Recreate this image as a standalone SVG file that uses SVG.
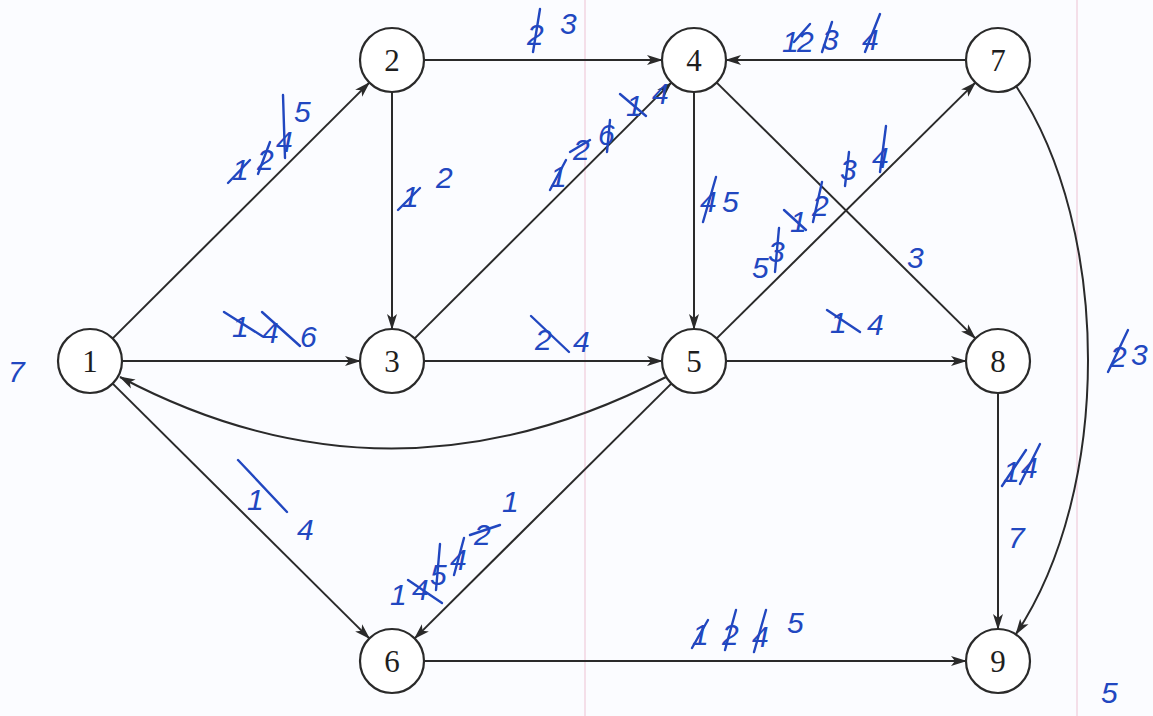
<svg xmlns="http://www.w3.org/2000/svg" width="1153" height="716" viewBox="0 0 1153 716">
<defs>
<style>
.node circle{fill:#fff;stroke:#2a2a2a;stroke-width:2.2}
.node text{font-family:"Liberation Serif",serif;font-size:31px;fill:#1e1e1e;text-anchor:middle}
.edge{fill:none;stroke:#2a2a2a;stroke-width:2;marker-end:url(#arr)}
.hw{font-family:"Liberation Sans",sans-serif;font-style:italic;font-size:30px;fill:#2147c0}
.st{stroke:#2147c0;stroke-width:2.4;stroke-linecap:round}
.margin{stroke:#f2d6e2;stroke-width:1.5}
</style>
<marker id="arr" viewBox="0 0 16 11" refX="15" refY="5.5" markerWidth="16" markerHeight="11" markerUnits="userSpaceOnUse" orient="auto">
<path d="M0,0.5 L16,5.5 L0,10.5 L4,5.5 Z" fill="#2a2a2a"/>
</marker>
</defs>
<rect width="1153" height="716" fill="#fbfcff"/>
<line class="margin" x1="585" y1="0" x2="585" y2="716"/>
<line class="margin" x1="1077" y1="0" x2="1077" y2="716"/>

<g id="connectors">
<line class="edge" x1="112.7" y1="338.4" x2="369.3" y2="82.6"/>
<line class="edge" x1="122" y1="361" x2="360" y2="361"/>
<line class="edge" x1="112.7" y1="383.6" x2="369.3" y2="638.4"/>
<line class="edge" x1="424" y1="60" x2="662" y2="60"/>
<line class="edge" x1="392" y1="92" x2="392" y2="329"/>
<line class="edge" x1="414.7" y1="338.4" x2="671.3" y2="82.6"/>
<line class="edge" x1="424" y1="361" x2="662" y2="361"/>
<line class="edge" x1="694" y1="92" x2="694" y2="329"/>
<line class="edge" x1="716.7" y1="82.6" x2="975.3" y2="338.4"/>
<line class="edge" x1="716.7" y1="338.4" x2="975.3" y2="82.6"/>
<line class="edge" x1="726" y1="361" x2="966" y2="361"/>
<line class="edge" x1="671.3" y1="383.6" x2="414.7" y2="638.4"/>
<line class="edge" x1="966" y1="60" x2="726" y2="60"/>
<line class="edge" x1="424" y1="661" x2="966" y2="661"/>
<line class="edge" x1="998" y1="393" x2="998" y2="629"/>
<path class="edge" d="M666,377 Q390,520 120,377"/>
<path class="edge" d="M1016,86 C1112,230 1112,490 1016,634"/>
</g>

<g id="n1" class="node"><circle cx="90" cy="361" r="32"/><text x="90" y="372">1</text></g>
<g id="n2" class="node"><circle cx="392" cy="60" r="32"/><text x="392" y="71">2</text></g>
<g id="n3" class="node"><circle cx="392" cy="361" r="32"/><text x="392" y="372">3</text></g>
<g id="n4" class="node"><circle cx="694" cy="60" r="32"/><text x="694" y="71">4</text></g>
<g id="n5" class="node"><circle cx="694" cy="361" r="32"/><text x="694" y="372">5</text></g>
<g id="n6" class="node"><circle cx="392" cy="661" r="32"/><text x="392" y="672">6</text></g>
<g id="n7" class="node"><circle cx="998" cy="60" r="32"/><text x="998" y="71">7</text></g>
<g id="n8" class="node"><circle cx="998" cy="361" r="32"/><text x="998" y="372">8</text></g>
<g id="n9" class="node"><circle cx="998" cy="661" r="32"/><text x="998" y="672">9</text></g>

<g id="labels">
<!-- 1->2 -->
<text class="hw" x="232 257 276 294" y="180 170 152 122">1245</text>
<line class="st" x1="228" y1="183" x2="250" y2="160"/>
<line class="st" x1="258" y1="174" x2="270" y2="142"/>
<line class="st" x1="285" y1="158" x2="283" y2="95"/>
<!-- 2->4 -->
<text class="hw" x="527 560" y="45 34">23</text>
<line class="st" x1="533" y1="52" x2="540" y2="9"/>
<!-- 7->4 -->
<text class="hw" x="782 797 822 862" y="52 52 50 50">1234</text>
<line class="st" x1="794" y1="42" x2="810" y2="24"/>
<line class="st" x1="822" y1="52" x2="832" y2="22"/>
<line class="st" x1="865" y1="52" x2="880" y2="14"/>
<!-- 2->3 -->
<text class="hw" x="402 436" y="207 188">12</text>
<line class="st" x1="398" y1="210" x2="420" y2="188"/>
<!-- 3->4 -->
<text class="hw" x="550 573 598 626 652" y="187 160 145 116 104">12614</text>
<line class="st" x1="550" y1="190" x2="566" y2="160"/>
<line class="st" x1="570" y1="152" x2="590" y2="140"/>
<line class="st" x1="607" y1="152" x2="610" y2="120"/>
<line class="st" x1="620" y1="94" x2="646" y2="116"/>
<!-- 4->5 -->
<text class="hw" x="700 722" y="212 212">45</text>
<line class="st" x1="703" y1="222" x2="716" y2="177"/>
<!-- 5->7 -->
<text class="hw" x="752 768 790 812 840 872" y="278 262 232 216 180 168">531234</text>
<line class="st" x1="775" y1="272" x2="779" y2="228"/>
<line class="st" x1="784" y1="210" x2="806" y2="230"/>
<line class="st" x1="813" y1="222" x2="822" y2="182"/>
<line class="st" x1="845" y1="186" x2="849" y2="152"/>
<line class="st" x1="880" y1="172" x2="886" y2="126"/>
<!-- 4->8 -->
<text class="hw" x="907" y="268">3</text>
<!-- 1->3 -->
<text class="hw" x="232 262 300" y="337 343 347">146</text>
<line class="st" x1="224" y1="312" x2="262" y2="336"/>
<line class="st" x1="262" y1="312" x2="300" y2="346"/>
<!-- 3->5 -->
<text class="hw" x="535 573" y="350 352">24</text>
<line class="st" x1="531" y1="316" x2="569" y2="352"/>
<!-- 5->8 -->
<text class="hw" x="830 867" y="333 335" font-size="25">14</text>
<line class="st" x1="827" y1="310" x2="860" y2="332"/>
<!-- 1->6 -->
<text class="hw" x="247 297" y="510 540">14</text>
<line class="st" x1="238" y1="460" x2="287" y2="512"/>
<!-- 5->6 -->
<text class="hw" x="390 412 430 450 474 502" y="605 600 585 570 545 512">145421</text>
<line class="st" x1="408" y1="580" x2="442" y2="603"/>
<line class="st" x1="436" y1="590" x2="440" y2="544"/>
<line class="st" x1="454" y1="575" x2="464" y2="538"/>
<line class="st" x1="470" y1="535" x2="500" y2="525"/>
<!-- 6->9 -->
<text class="hw" x="692 722 752 787" y="645 645 647 633">1245</text>
<line class="st" x1="692" y1="648" x2="708" y2="620"/>
<line class="st" x1="725" y1="650" x2="736" y2="610"/>
<line class="st" x1="754" y1="652" x2="766" y2="610"/>
<!-- 8->9 -->
<text class="hw" x="1003 1021" y="482 478">14</text>
<line class="st" x1="1002" y1="486" x2="1026" y2="450"/>
<line class="st" x1="1020" y1="484" x2="1040" y2="444"/>
<text class="hw" x="1008" y="548">7</text>
<!-- 7->9 -->
<text class="hw" x="1110 1131" y="367 365">23</text>
<line class="st" x1="1108" y1="372" x2="1128" y2="330"/>
<!-- misc -->
<text class="hw" x="8" y="382">7</text>
<text class="hw" x="1101" y="703">5</text>
</g>
</svg>
